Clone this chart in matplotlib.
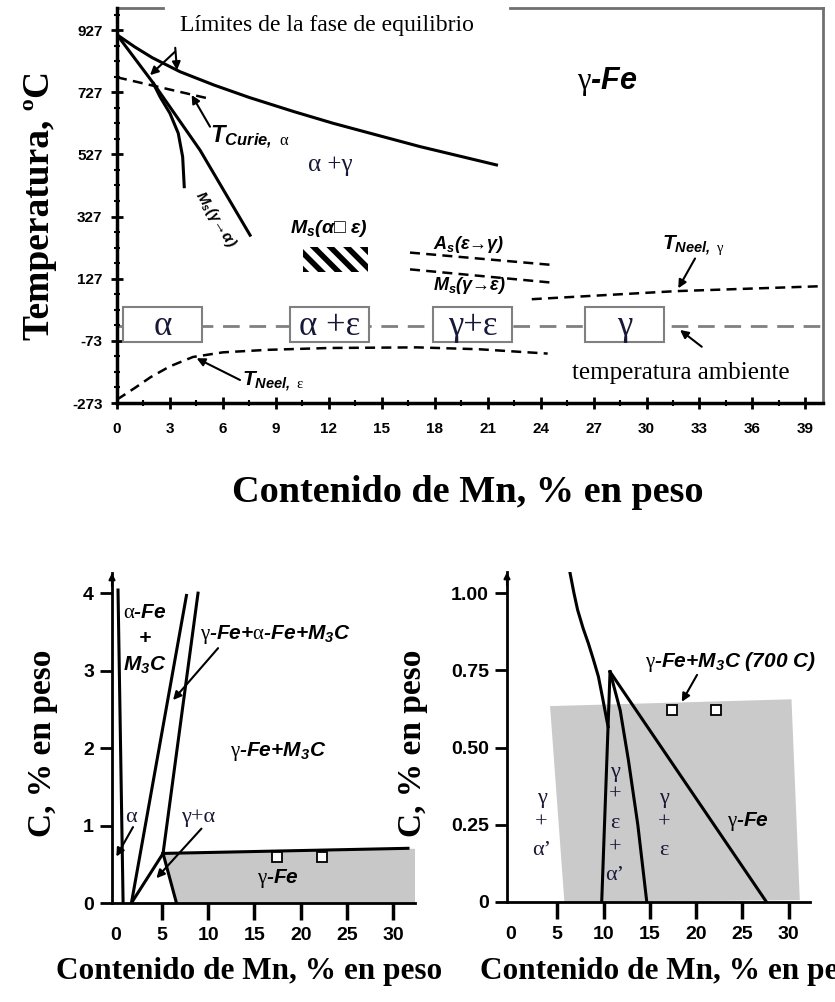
import numpy as np
import matplotlib
matplotlib.use('Agg')
import matplotlib.pyplot as plt
from matplotlib.patches import Rectangle, Polygon
from matplotlib.ticker import FixedLocator

plt.rcParams['mathtext.fontset'] = 'custom'
plt.rcParams['mathtext.rm'] = 'Liberation Serif'
plt.rcParams['mathtext.it'] = 'Liberation Sans:italic:bold'
plt.rcParams['mathtext.bf'] = 'Liberation Sans:bold'
plt.rcParams['mathtext.bfit'] = 'Liberation Sans:italic:bold'
plt.rcParams['hatch.linewidth'] = 4.0
plt.rcParams['axes.unicode_minus'] = False

# ---------------- DATA: top diagram (Mn wt% vs T, degC) ----------------
top_xticks = list(range(0, 40, 3))
top_yticks = [-273, -73, 127, 327, 527, 727, 927]

gamma_bound_mn = [0, 1.0, 2.0, 3.57, 5.5, 7.5, 10.0, 12.25, 15.0, 17.17, 21.5]
gamma_bound_t = [912, 873, 838, 793, 750, 710, 665, 627, 585, 552, 493]

alpha_bound_mn = [0, 2.06, 4.7, 7.54]
alpha_bound_t = [912, 756, 541, 267]

ms_ga_mn = [2.06, 2.44, 3.0, 3.47, 3.72, 3.81]
ms_ga_t = [755, 712, 659, 595, 519, 423]

curie_mn = [0, 5.17]
curie_t = [775, 707]

as_eg_mn = [16.6, 24.7]
as_eg_t = [211, 171]

ms_ge_mn = [16.6, 24.7]
ms_ge_t = [157, 114]

neel_g_mn = [23.5, 31.7, 40.0]
neel_g_t = [61, 87, 103]

neel_e_mn = [0, 1.0, 1.9, 3.0, 4.3, 6.0, 8.5, 12.0, 17.0, 20.5, 24.4]
neel_e_t = [-262, -225, -190, -155, -125, -110, -102, -96, -94, -100, -114]

room_t = -25

phase_box_labels = ['α', 'α +ε', 'γ+ε', 'γ']
phase_box_mn_lo = [0.34, 9.8, 17.9, 26.5]
phase_box_mn_hi = [4.82, 14.3, 22.4, 31.0]
phase_box_t_lo = -77
phase_box_t_hi = 36

hatch_mn = [10.54, 14.22]
hatch_t = [149, 230]

# ---------------- DATA: bottom-left (Mn vs C) ----------------
bl_xticks = [0, 5, 10, 15, 20, 25, 30]
bl_yticks = [0, 1, 2, 3, 4]
bl_lines = [
    ([0.25, 0.8], [4.04, 0.0]),
    ([1.7, 7.65], [0.0, 3.97]),
    ([5.12, 8.9], [0.64, 4.0]),
    ([1.7, 5.12], [0.0, 0.64]),
    ([5.12, 6.57], [0.64, 0.0]),
    ([5.12, 31.6], [0.64, 0.706]),
]
bl_fill_mn = [5.12, 32.36, 32.36, 6.57]
bl_fill_c = [0.64, 0.70, 0.0, 0.0]
bl_sq_mn = [17.4, 22.3]
bl_sq_c = [0.6, 0.6]

# ---------------- DATA: bottom-right (Mn vs C) ----------------
br_xticks = [0, 5, 10, 15, 20, 25, 30]
br_yticks = [0, 0.25, 0.50, 0.75, 1.00]
br_ylabels = ['0', '0.25', '0.50', '0.75', '1.00']
br_curve_mn = [6.38, 6.8, 7.2, 7.8, 8.36, 8.9, 9.44, 9.9, 10.34, 10.5]
br_curve_c = [1.065, 1.0, 0.945, 0.885, 0.837, 0.785, 0.73, 0.66, 0.59, 0.567]
br_left_mn = [10.7, 9.8]
br_left_c = [0.745, 0.0]
br_mid_mn = [10.7, 11.8, 12.68, 13.7, 14.67]
br_mid_c = [0.745, 0.62, 0.46, 0.25, 0.0]
br_right_mn = [10.7, 27.6]
br_right_c = [0.745, 0.0]
br_fill_mn = [4.22, 30.3, 31.2, 5.77]
br_fill_c = [0.634, 0.656, 0.006, 0.0]
br_sq_mn = [17.4, 22.2]
br_sq_c = [0.62, 0.62]

# ---------------- FIGURE ----------------
W, H = 835, 1002
fig = plt.figure(figsize=(W / 100, H / 100), dpi=100)


def ax_rect(l, t, r, b):
    return [l / W, 1 - b / H, (r - l) / W, (b - t) / H]


SERIF = 'Liberation Serif'
SANS = ['Liberation Sans', 'DejaVu Sans']
GREEK_C = '#181838'
arrow_kw = dict(arrowstyle='-|>', lw=1.5, color='black', mutation_scale=12,
                shrinkA=0, shrinkB=0)

# ======== TOP ========
ax = fig.add_axes(ax_rect(117, 8, 823, 403))
ax.set_xlim(0, 40)
ax.set_ylim(-273, 998)
for s in ['top', 'right']:
    ax.spines[s].set_visible(False)
for s in ['left', 'bottom']:
    ax.spines[s].set_linewidth(2.5)
# gray frame top (with gap for text) and right
ax.plot([0, 0.065], [1, 1], transform=ax.transAxes, color='#707070', lw=2, clip_on=False)
ax.plot([0.557, 1], [1, 1], transform=ax.transAxes, color='#707070', lw=2, clip_on=False)
ax.plot([1, 1], [0, 1], transform=ax.transAxes, color='#707070', lw=2, clip_on=False)

ax.set_xticks(top_xticks)
ax.set_yticks(top_yticks)
ax.xaxis.set_minor_locator(FixedLocator(np.arange(0, 40.1, 1.5)))
ax.yaxis.set_minor_locator(FixedLocator(np.arange(-273, 998, 50)))
ax.tick_params(which='major', direction='inout', length=9, width=2)
ax.tick_params(which='minor', direction='inout', length=4, width=1.5)
ax.tick_params(axis='x', which='major', pad=9)
ax.tick_params(axis='y', which='major', pad=6)
for lab in ax.get_xticklabels() + ax.get_yticklabels():
    lab.set_fontfamily('Liberation Sans')
    lab.set_fontweight('bold')
    lab.set_fontsize(11)

ax.plot(gamma_bound_mn, gamma_bound_t, color='black', lw=2.2)
ax.plot(alpha_bound_mn, alpha_bound_t, color='black', lw=2.2)
ax.plot(ms_ga_mn, ms_ga_t, color='black', lw=2.2)
ax.plot(curie_mn, curie_t, color='black', lw=1.8, ls=(0, (4, 2.5)))
ax.plot(as_eg_mn, as_eg_t, color='black', lw=1.8, ls=(0, (4, 2.5)))
ax.plot(ms_ge_mn, ms_ge_t, color='black', lw=1.8, ls=(0, (4, 2.5)))
ax.plot(neel_g_mn, neel_g_t, color='black', lw=1.8, ls=(0, (4, 2.5)))
ax.plot(neel_e_mn, neel_e_t, color='black', lw=1.8, ls=(0, (4, 2.5)))
ax.axhline(room_t, color='#808080', lw=2, ls=(0, (6, 3.5)), zorder=1)

for lab, lo, hi in zip(phase_box_labels, phase_box_mn_lo, phase_box_mn_hi):
    ax.add_patch(Rectangle((lo, phase_box_t_lo), hi - lo, phase_box_t_hi - phase_box_t_lo,
                           facecolor='white', edgecolor='#808080', lw=1.5, zorder=3))
    ax.text((lo + hi) / 2, (phase_box_t_lo + phase_box_t_hi) / 2 - 5, lab,
            ha='center', va='center', fontfamily=SERIF, fontsize=25,
            color=GREEK_C, zorder=4)

ax.add_patch(Rectangle((hatch_mn[0], hatch_t[0]), hatch_mn[1] - hatch_mn[0],
                       hatch_t[1] - hatch_t[0], facecolor='none', edgecolor='black',
                       lw=0, hatch='\\\\'))

fig.text(180 / W, 1 - 25 / H, 'Límites de la fase de equilibrio', ha='left', va='center',
         fontfamily=SERIF, fontsize=17)
ax.annotate('', xy=(3.4, 798), xytext=(3.3, 870), arrowprops=arrow_kw)
ax.annotate('', xy=(1.87, 782), xytext=(3.3, 858), arrowprops=arrow_kw)

ax.text(27.8, 760, r'$\mathrm{\gamma}$-Fe', ha='center', va='center',
        fontfamily=SANS, fontweight='bold', fontstyle='italic', fontsize=22)
ax.text(12.07, 493, 'α +γ', ha='center', va='center', fontfamily=SERIF, fontsize=18,
        color=GREEK_C)
ax.text(5.27, 580, r'$\mathbfit{T}_{\mathbfit{Curie,}\ \mathrm{\alpha}}$', ha='left',
        va='center', fontsize=17)
ax.annotate('', xy=(4.23, 718), xytext=(5.27, 616), arrowprops=arrow_kw)
ax.text(5.61, 319, r'$\mathbfit{M}_{\mathbfit{s}}$(γ→α)', ha='center', va='center',
        rotation=-58, fontfamily=SANS, fontweight='bold', fontstyle='italic', fontsize=11)
ax.text(9.8, 287, r'$\mathbfit{M}_{\mathbfit{s}}$(α□ ε)', ha='left', va='center',
        fontfamily=SANS, fontweight='bold', fontstyle='italic', fontsize=14)
ax.text(17.9, 238, r'$\mathbfit{A}_{\mathbfit{s}}$(ε→γ)', ha='left', va='center',
        fontfamily=SANS, fontweight='bold', fontstyle='italic', fontsize=13)
ax.text(17.9, 105, r'$\mathbfit{M}_{\mathbfit{s}}$(γ→ε)', ha='left', va='center',
        fontfamily=SANS, fontweight='bold', fontstyle='italic', fontsize=13)
ax.text(30.9, 235, r'$\mathbfit{T}_{\mathbfit{Neel,}\ \mathrm{\gamma}}$', ha='left',
        va='center', fontsize=15)
ax.annotate('', xy=(31.8, 96), xytext=(32.75, 192), arrowprops=arrow_kw)
ax.text(7.08, -205, r'$\mathbfit{T}_{\mathbfit{Neel,}\ \mathrm{\epsilon}}$', ha='left',
        va='center', fontsize=15)
ax.annotate('', xy=(4.51, -129), xytext=(6.97, -199), arrowprops=arrow_kw)
ax.text(25.76, -176, 'temperatura ambiente', ha='left', va='center', fontfamily=SERIF,
        fontsize=18)
ax.annotate('', xy=(31.9, -38), xytext=(33.13, -92), arrowprops=arrow_kw)

fig.text(40 / W, 1 - 205 / H, 'Temperatura, ºC', rotation=90, ha='center', va='center',
         fontfamily=SERIF, fontweight='bold', fontsize=27)
fig.text(468 / W, 1 - 492 / H, 'Contenido de Mn, % en peso', ha='center', va='center',
         fontfamily=SERIF, fontweight='bold', fontsize=27.5)


# ======== BOTTOM helpers ========
def style_bottom(a, xticks, yticks, ylabels=None):
    for s in ['top', 'right']:
        a.spines[s].set_visible(False)
    for s in ['left', 'bottom']:
        a.spines[s].set_linewidth(2)
    a.set_xticks(xticks)
    a.set_yticks(yticks)
    if ylabels is not None:
        a.set_yticklabels(ylabels)
    a.tick_params(axis='x', direction='out', length=12, width=2.5, pad=5)
    a.tick_params(axis='y', direction='out', length=9, width=2, pad=4)
    a.xaxis.get_major_ticks()[0].tick1line.set_visible(False)
    for lab in a.get_xticklabels() + a.get_yticklabels():
        lab.set_fontfamily('Liberation Sans')
        lab.set_fontweight('bold')
        lab.set_fontsize(14)
    a.annotate('', xy=(0, 1.0), xytext=(0, 0.96), xycoords='axes fraction',
               arrowprops=dict(arrowstyle='-|>', lw=1.5, color='black',
                               mutation_scale=9, shrinkA=0, shrinkB=0))


lab_kw = dict(fontfamily=SANS, fontweight='bold', fontstyle='italic', fontsize=15)
greek_kw = dict(fontfamily=SERIF, fontsize=16, color=GREEK_C, ha='center', va='center')

# ======== BOTTOM LEFT ========
bl = fig.add_axes(ax_rect(112, 573, 415, 903))
bl.set_xlim(-0.4, 32.36)
bl.set_ylim(0, 4.26)
style_bottom(bl, bl_xticks, bl_yticks)
bl.add_patch(Polygon(list(zip(bl_fill_mn, bl_fill_c)), closed=True, facecolor='#c8c8c8',
                     edgecolor='none', zorder=1))
for xs, ys in bl_lines:
    bl.plot(xs, ys, color='black', lw=2.2, zorder=3)
bl.plot(bl_sq_mn, bl_sq_c, ls='none', marker='s', ms=6.5, mfc='white', mec='black',
        mew=1.3, zorder=4)

bl.text(3.14, 3.75, r'$\mathrm{\alpha}$-Fe', ha='center', va='center', **lab_kw)
bl.text(3.14, 3.42, '+', ha='center', va='center', **lab_kw)
bl.text(3.14, 3.07, r'$\mathbfit{M_3C}$', ha='center', va='center', **lab_kw)
bl.text(9.1, 3.46, r'$\mathrm{\gamma}$-Fe+$\mathrm{\alpha}$-Fe+$\mathbfit{M_3C}$',
        ha='left', va='center', **lab_kw)
bl.annotate('', xy=(6.2, 2.62), xytext=(11.07, 3.29), arrowprops=arrow_kw)
bl.text(17.6, 1.95, r'$\mathrm{\gamma}$-Fe+$\mathbfit{M_3C}$', ha='center', va='center',
        **lab_kw)
bl.text(1.7, 1.11, 'α', **greek_kw)
bl.annotate('', xy=(0.07, 0.6), xytext=(1.87, 0.98), arrowprops=arrow_kw)
bl.text(8.9, 1.11, 'γ+α', **greek_kw)
bl.annotate('', xy=(4.4, 0.32), xytext=(9.27, 0.96), arrowprops=arrow_kw)
bl.text(17.6, 0.32, r'$\mathrm{\gamma}$-Fe', ha='center', va='center', **lab_kw)

fig.text(43 / W, 1 - 743 / H, 'C, % en peso', rotation=90, ha='center', va='center',
         fontfamily=SERIF, fontweight='bold', fontsize=24)
fig.text(56 / W, 1 - 972 / H, 'Contenido de Mn, % en peso', ha='left', va='center',
         fontfamily=SERIF, fontweight='bold', fontsize=22.5)

# ======== BOTTOM RIGHT ========
br = fig.add_axes(ax_rect(507, 572, 810, 902))
br.set_xlim(-0.43, 32.3)
br.set_ylim(0, 1.068)
style_bottom(br, br_xticks, br_yticks, br_ylabels)
br.add_patch(Polygon(list(zip(br_fill_mn, br_fill_c)), closed=True, facecolor='#cacaca',
                     edgecolor='none', zorder=1))
br.plot(br_curve_mn, br_curve_c, color='black', lw=2.2, zorder=3)
br.plot(br_left_mn, br_left_c, color='black', lw=2.2, zorder=3)
br.plot(br_mid_mn, br_mid_c, color='black', lw=2.2, zorder=3)
br.plot(br_right_mn, br_right_c, color='black', lw=2.2, zorder=3)
br.plot(br_sq_mn, br_sq_c, ls='none', marker='s', ms=6.5, mfc='white', mec='black',
        mew=1.3, zorder=4)

br.text(14.5, 0.778, r'$\mathrm{\gamma}$-Fe+$\mathbfit{M_3C}$ (700 C)', ha='left',
        va='center', **lab_kw)
br.annotate('', xy=(18.45, 0.648), xytext=(20.1, 0.735), arrowprops=arrow_kw)
for s, c in zip(['γ', '+', 'α’'], [0.336, 0.255, 0.168]):
    br.text(3.3, c, s, **greek_kw)
for s, c in zip(['γ', '+', 'ε', '+', 'α’'], [0.42, 0.346, 0.255, 0.174, 0.087]):
    br.text(11.24, c, s, **greek_kw)
for s, c in zip(['γ', '+', 'ε'], [0.336, 0.255, 0.168]):
    br.text(16.5, c, s, **greek_kw)
br.text(25.65, 0.26, r'$\mathrm{\gamma}$-Fe', ha='center', va='center', **lab_kw)

fig.text(413 / W, 1 - 743 / H, 'C, % en peso', rotation=90, ha='center', va='center',
         fontfamily=SERIF, fontweight='bold', fontsize=24)
fig.text(480 / W, 1 - 972 / H, 'Contenido de Mn, % en peso', ha='left', va='center',
         fontfamily=SERIF, fontweight='bold', fontsize=22.5)

fig.savefig('out.png', dpi=100)
